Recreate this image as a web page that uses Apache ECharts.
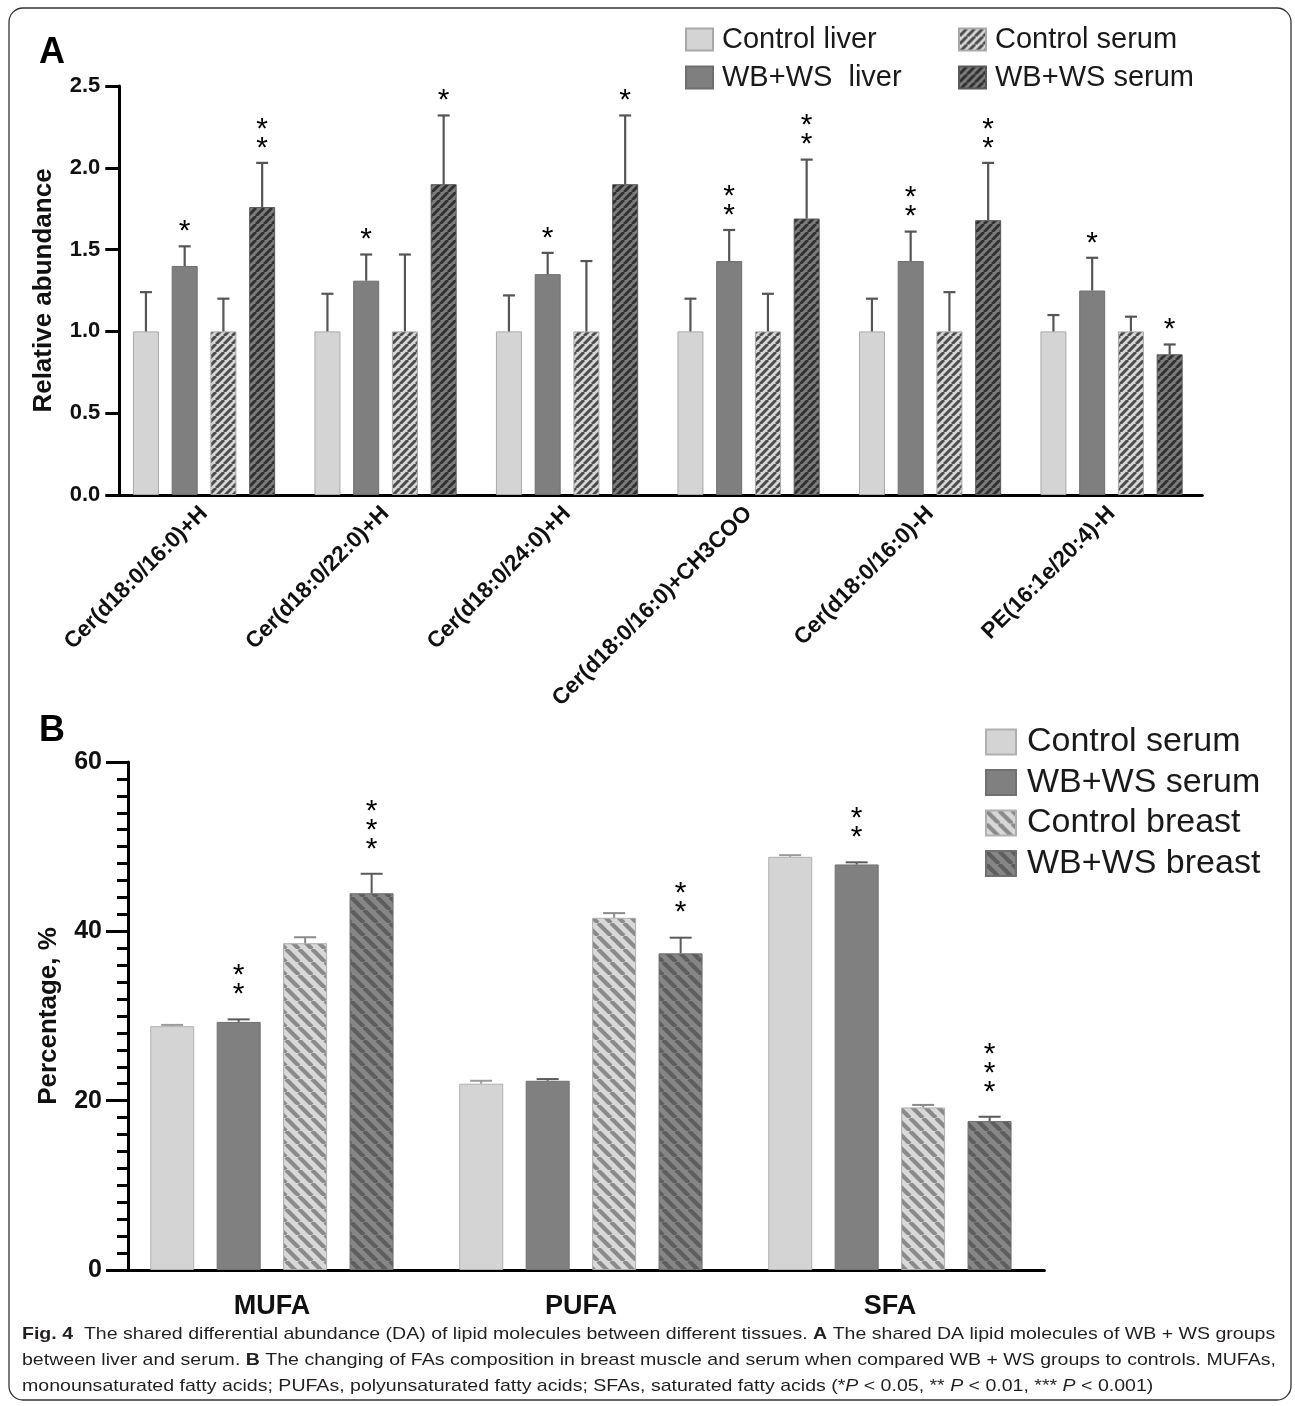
<!DOCTYPE html>
<html><head><meta charset="utf-8">
<script src="https://cdn.jsdelivr.net/npm/echarts@6/dist/echarts.min.js"></script>
<style>html,body{margin:0;padding:0;background:#fff}#c{width:1295px;height:1406px}</style>
</head><body><div id="c"></div>
<script>
// ---------- Panel A data ----------
const catsA = ['Cer(d18:0/16:0)+H','Cer(d18:0/22:0)+H','Cer(d18:0/24:0)+H','Cer(d18:0/16:0)+CH3COO','Cer(d18:0/16:0)-H','PE(16:1e/20:4)-H'];
const ctrlLiver   = [1.00, 1.00, 1.00, 1.00, 1.00, 1.00];
const ctrlLiverSD = [0.24, 0.23, 0.22, 0.20, 0.20, 0.10];
const wbLiver     = [1.40, 1.31, 1.35, 1.43, 1.43, 1.25];
const wbLiverSD   = [0.12, 0.16, 0.13, 0.19, 0.18, 0.20];
const ctrlSerumA   = [1.00, 1.00, 1.00, 1.00, 1.00, 1.00];
const ctrlSerumASD = [0.20, 0.47, 0.43, 0.23, 0.24, 0.09];
const wbSerumA     = [1.76, 1.90, 1.90, 1.69, 1.68, 0.86];
const wbSerumASD   = [0.27, 0.42, 0.42, 0.36, 0.35, 0.06];
const starsWbLiver  = ['*','*','*','**','**','*'];
const starsWbSerumA = ['**','*','*','**','**','*'];
const namesA = ['Control liver','WB+WS  liver','Control serum','WB+WS serum'];

// ---------- Panel B data ----------
const catsB = ['MUFA','PUFA','SFA'];
const ctrlSerumB   = [28.8, 22.0, 48.8];
const ctrlSerumBSD = [0.15, 0.35, 0.20];
const wbSerumB     = [29.3, 22.35, 47.9];
const wbSerumBSD   = [0.30, 0.20, 0.25];
const ctrlBreast   = [38.6, 41.6, 19.2];
const ctrlBreastSD = [0.70, 0.55, 0.30];
const wbBreast     = [44.5, 37.4, 17.6];
const wbBreastSD   = [2.30, 1.85, 0.50];
const starsWbSerumB = ['**','','**'];
const starsWbBreast = ['***','**','***'];
const namesB = ['Control serum','WB+WS serum','Control breast','WB+WS breast'];

const FONT = '"Liberation Sans", Arial, Helvetica, sans-serif';

function stripes(bg, fg, period, lw, dir) {
  const c = document.createElement('canvas');
  c.width = c.height = period;
  const g = c.getContext('2d');
  g.fillStyle = bg; g.fillRect(0, 0, period, period);
  g.strokeStyle = fg; g.lineWidth = lw;
  g.beginPath();
  for (let k = -1; k <= 1; k++) {
    if (dir > 0) { g.moveTo(k * period, period); g.lineTo(k * period + period, 0); }
    else { g.moveTo(k * period, 0); g.lineTo(k * period + period, period); }
  }
  g.stroke();
  return { image: c, repeat: 'repeat' };
}

const colA = [
  { color: '#d4d4d4', border: '#a9a9a9' },
  { color: '#7f7f7f', border: '#6e6e6e' },
  { color: stripes('#d6d6d6', '#4c4c4c', 8, 3, 1), border: '#a9a9a9' },
  { color: stripes('#7d7d7d', '#303030', 8, 3, 1), border: '#5a5a5a' }
];
const colB = [
  { color: '#d4d4d4', border: '#b0b0b0' },
  { color: '#808080', border: '#707070' },
  { color: stripes('#d8d8d8', '#8a8a8a', 13, 4.2, -1), border: '#b0b0b0' },
  { color: stripes('#868686', '#5e5e5e', 13, 4.2, -1), border: '#707070' }
];

function bar(name, data, st, axis, w, gap) {
  return {
    type: 'bar', name: name, xAxisIndex: axis, yAxisIndex: axis, data: data,
    barWidth: w, barGap: gap, z: 2, silent: true,
    itemStyle: { color: st.color, borderColor: st.border, borderWidth: 1 }
  };
}

function err(vals, sds, stars, axis, offset, capW, color, lw, lift) {
  return {
    type: 'custom', xAxisIndex: axis, yAxisIndex: axis, z: 5, silent: true,
    data: vals.map((v, i) => [i, v, sds[i]]),
    encode: { x: 0, y: 1 },
    renderItem: function (params, api) {
      const i = api.value(0), v = api.value(1), s = api.value(2);
      const base = api.coord([i, v]);
      const top = api.coord([i, v + s]);
      const x = base[0] + offset;
      const ch = [
        { type: 'line', shape: { x1: x, y1: base[1], x2: x, y2: top[1] }, style: { stroke: color, lineWidth: lw } },
        { type: 'line', shape: { x1: x - capW / 2, y1: top[1], x2: x + capW / 2, y2: top[1] }, style: { stroke: color, lineWidth: lw } }
      ];
      const st = stars ? stars[params.dataIndex] : '';
      if (st) {
        ch.push({ type: 'text', style: {
          text: st.split('').join('\n'), x: x, y: top[1] - lift,
          align: 'center', verticalAlign: 'bottom',
          fontSize: 30, lineHeight: 19, fontFamily: FONT, fill: '#000'
        } });
      }
      return { type: 'group', children: ch };
    }
  };
}

const spA = 38.74, spB = 66.5;
const series = [
  bar(namesA[0], ctrlLiver, colA[0], 0, 26, '49%'),
  bar(namesA[1], wbLiver, colA[1], 0, 26, '49%'),
  bar(namesA[2], ctrlSerumA, colA[2], 0, 26, '49%'),
  bar(namesA[3], wbSerumA, colA[3], 0, 26, '49%'),
  err(ctrlLiver, ctrlLiverSD, null, 0, -1.5 * spA, 12, '#555', 2.2, 5),
  err(wbLiver, wbLiverSD, starsWbLiver, 0, -0.5 * spA, 12, '#555', 2.2, 5),
  err(ctrlSerumA, ctrlSerumASD, null, 0, 0.5 * spA, 12, '#555', 2.2, 5),
  err(wbSerumA, wbSerumASD, starsWbSerumA, 0, 1.5 * spA, 12, '#555', 2.2, 5),
  bar('B|' + namesB[0], ctrlSerumB, colB[0], 1, 44, '51%'),
  bar('B|' + namesB[1], wbSerumB, colB[1], 1, 44, '51%'),
  bar('B|' + namesB[2], ctrlBreast, colB[2], 1, 44, '51%'),
  bar('B|' + namesB[3], wbBreast, colB[3], 1, 44, '51%'),
  err(ctrlSerumB, ctrlSerumBSD, null, 1, -1.5 * spB, 22, '#9a9a9a', 2, 15),
  err(wbSerumB, wbSerumBSD, starsWbSerumB, 1, -0.5 * spB, 22, '#5a5a5a', 2, 15),
  err(ctrlBreast, ctrlBreastSD, null, 1, 0.5 * spB, 22, '#8a8a8a', 2, 15),
  err(wbBreast, wbBreastSD, starsWbBreast, 1, 1.5 * spB, 22, '#5a5a5a', 2, 15)
];

// caption
const capLines = [
  '{b|Fig. 4}  The shared differential abundance (DA) of lipid molecules between different tissues. {b|A} The shared DA lipid molecules of WB + WS groups',
  'between liver and serum. {b|B} The changing of FAs composition in breast muscle and serum when compared WB + WS groups to controls. MUFAs,',
  'monounsaturated fatty acids; PUFAs, polyunsaturated fatty acids; SFAs, saturated fatty acids (*{i|P} < 0.05, ** {i|P} < 0.01, *** {i|P} < 0.001)'
];
const capFont = 17;
const mc = document.createElement('canvas').getContext('2d');
mc.font = capFont + 'px "Liberation Sans", Arial, sans-serif';
const plain1 = capLines[0].replace(/\{[a-z]\|([^}]*)\}/g, '$1');
const capScale = 1250 / mc.measureText(plain1).width;
const capY = [1334, 1360, 1386];

const axisLineStyle = { color: '#000', width: 3 };

const option = {
  animation: false,
  backgroundColor: '#fff',
  grid: [
    { left: 113.3, top: 86, width: 1089, height: 409, outerBoundsMode: 'none' },
    { left: 117.4, top: 762, width: 927, height: 508, outerBoundsMode: 'none' }
  ],
  xAxis: [
    { type: 'category', gridIndex: 0, data: catsA,
      axisLine: { lineStyle: axisLineStyle },
      axisTick: { alignWithLabel: true, length: 12, lineStyle: { width: 3, color: '#000' } },
      axisLabel: { rotate: 45, interval: 0, margin: 15, fontSize: 22.5, fontWeight: 'bold', color: '#111', fontFamily: FONT } },
    { type: 'category', gridIndex: 1, data: catsB,
      axisLine: { lineStyle: axisLineStyle },
      axisTick: { alignWithLabel: true, length: 15, lineStyle: { width: 3, color: '#000' } },
      axisLabel: { interval: 0, margin: 23, fontSize: 27, fontWeight: 'bold', color: '#111', fontFamily: FONT } }
  ],
  yAxis: [
    { type: 'value', gridIndex: 0, min: 0, max: 2.5, interval: 0.5, offset: -6,
      name: 'Relative abundance', nameLocation: 'middle', nameGap: 62, nameRotate: 90,
      nameTextStyle: { fontSize: 26, fontWeight: 'bold', color: '#111', fontFamily: FONT },
      axisLine: { show: true, lineStyle: axisLineStyle },
      axisTick: { show: true, length: 14, lineStyle: { width: 3, color: '#000' } },
      splitLine: { show: false },
      axisLabel: { formatter: v => v.toFixed(1), margin: 19, fontSize: 22, fontWeight: 'bold', color: '#111', fontFamily: FONT } },
    { type: 'value', gridIndex: 1, min: 0, max: 60, interval: 20, offset: -10.6,
      name: 'Percentage, %', nameLocation: 'middle', nameGap: 66, nameRotate: 90,
      nameTextStyle: { fontSize: 26, fontWeight: 'bold', color: '#111', fontFamily: FONT },
      axisLine: { show: true, lineStyle: axisLineStyle },
      axisTick: { show: true, length: 22, lineStyle: { width: 3, color: '#000' } },
      minorTick: { show: true, splitNumber: 10, length: 11, lineStyle: { width: 3, color: '#000' } },
      splitLine: { show: false },
      axisLabel: { margin: 26, fontSize: 25, fontWeight: 'bold', color: '#111', fontFamily: FONT } }
  ],
  legend: [
    { data: [namesA[0], namesA[1]], left: 680, top: 20, orient: 'vertical', icon: 'rect',
      itemWidth: 27, itemHeight: 22, itemGap: 9, selectedMode: false,
      textStyle: { fontSize: 29, color: '#1a1a1a', fontFamily: FONT, padding: [0, 0, 0, 4] } },
    { data: [namesA[2], namesA[3]], left: 953, top: 20, orient: 'vertical', icon: 'rect',
      itemWidth: 27, itemHeight: 22, itemGap: 9, selectedMode: false,
      textStyle: { fontSize: 29, color: '#1a1a1a', fontFamily: FONT, padding: [0, 0, 0, 4] } },
    { data: namesB.map(n => 'B|' + n), left: 980, top: 720, orient: 'vertical', icon: 'rect',
      itemWidth: 30, itemHeight: 25, itemGap: 6.5, selectedMode: false,
      formatter: n => n.replace(/^B\|/, ''),
      textStyle: { fontSize: 34, color: '#1a1a1a', fontFamily: FONT, padding: [0, 0, 0, 6] } }
  ],
  graphic: [
    { type: 'rect', shape: { x: 9, y: 8, width: 1282, height: 1392, r: 14 }, style: { fill: 'none', stroke: '#333', lineWidth: 1.3 }, silent: true },
    { type: 'text', x: 39, y: 53, style: { text: 'A', fontSize: 36, fontWeight: 'bold', fontFamily: FONT, fill: '#000', verticalAlign: 'middle' } },
    { type: 'text', x: 39, y: 731, style: { text: 'B', fontSize: 36, fontWeight: 'bold', fontFamily: FONT, fill: '#000', verticalAlign: 'middle' } }
  ].concat(capLines.map((t, k) => ({
    type: 'text', x: 22, y: capY[k], scaleX: capScale, silent: true,
    style: { text: t, fontSize: capFont, fontFamily: FONT, fill: '#231f20', verticalAlign: 'middle',
      rich: { b: { fontWeight: 'bold', fontSize: capFont, fontFamily: FONT, fill: '#231f20' },
              i: { fontStyle: 'italic', fontSize: capFont, fontFamily: FONT, fill: '#231f20' } } }
  }))),
  series: series
};

const chart = echarts.init(document.getElementById('c'), null, { renderer: 'canvas' });
chart.setOption(option);
</script></body></html>
